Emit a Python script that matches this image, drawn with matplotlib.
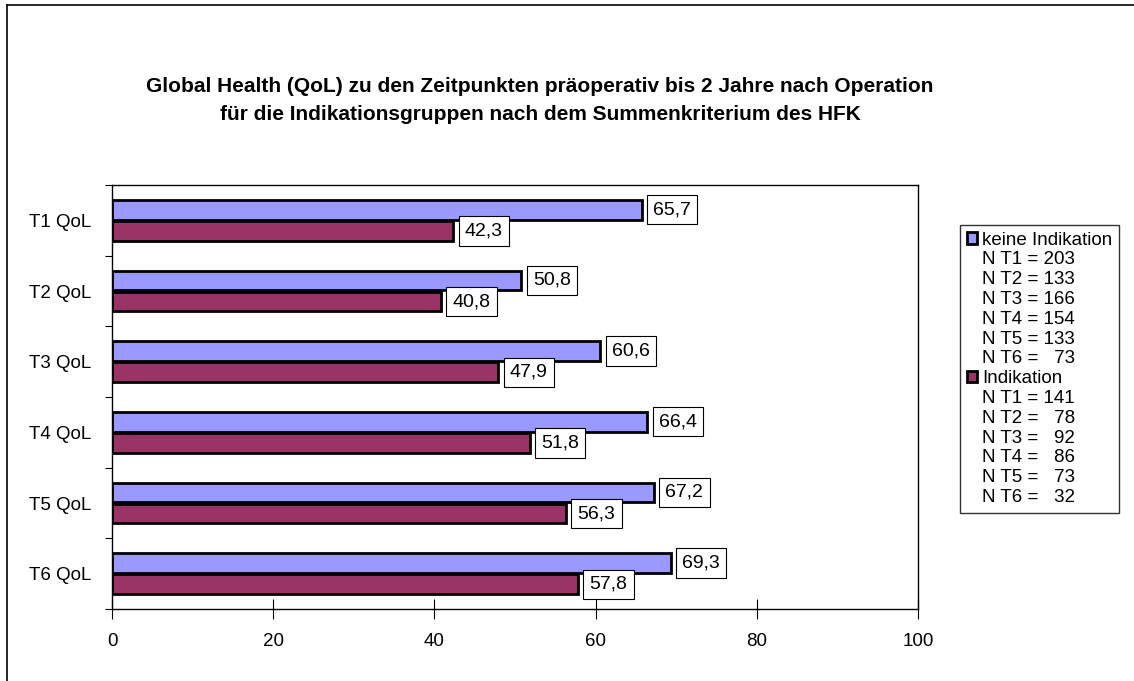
import matplotlib.pyplot as plt
import numpy as np
from matplotlib.patches import Patch
from matplotlib.lines import Line2D

plt.rcParams['font.family'] = ['Liberation Sans', 'DejaVu Sans']

# data
categories = ['T1 QoL', 'T2 QoL', 'T3 QoL', 'T4 QoL', 'T5 QoL', 'T6 QoL']
keine = [65.7, 50.8, 60.6, 66.4, 67.2, 69.3]
indikation = [42.3, 40.8, 47.9, 51.8, 56.3, 57.8]
n_keine = [203, 133, 166, 154, 133, 73]
n_ind = [141, 78, 92, 86, 73, 32]
series_names = ['keine Indikation', 'Indikation']
x_ticks = [0, 20, 40, 60, 80, 100]

c_blue = '#9999FF'
c_purple = '#993366'

fig = plt.figure(figsize=(11.34, 6.81), dpi=100)
ax = fig.add_axes([112 / 1134, 1 - 609 / 681, 806 / 1134, 424 / 681])

y = np.arange(len(categories))
h = 0.28
ax.barh(y - h / 2 - 0.01, keine, height=h, color=c_blue, edgecolor='black', linewidth=2)
ax.barh(y + h / 2 + 0.01, indikation, height=h, color=c_purple, edgecolor='black', linewidth=2)


def lab(v, yy):
    ax.annotate(f"{v:.1f}".replace('.', ','), (v, yy), xytext=(8.5, 0),
                textcoords='offset points', ha='left', va='center', fontsize=14,
                bbox=dict(boxstyle='square,pad=0.32', fc='white', ec='black', lw=0.8))


for i in range(len(categories)):
    lab(keine[i], y[i] - h / 2 - 0.01)
    lab(indikation[i], y[i] + h / 2 + 0.01)

ax.set_xlim(0, 100)
ax.set_ylim(len(categories) - 0.5, -0.5)
ax.set_xticks(x_ticks)
ax.set_xticklabels([str(t) for t in x_ticks], fontsize=13.5)
ax.tick_params(axis='x', direction='inout', length=14, pad=10)

# ticks at category borders, labels at centers
ax.set_yticks(np.arange(-0.5, len(categories), 1.0))
ax.set_yticklabels([])
ax.set_yticks(y, minor=True)
ax.set_yticklabels(categories, minor=True, fontsize=13.5)
ax.tick_params(axis='y', which='major', direction='out', length=5)
ax.tick_params(axis='y', which='minor', length=0, pad=15)
for s in ax.spines.values():
    s.set_linewidth(1)
    s.set_color('black')

fig.text(540 / 1134, 1 - 87 / 681,
         'Global Health (QoL) zu den Zeitpunkten präoperativ bis 2 Jahre nach Operation',
         ha='center', va='center', fontsize=15, fontweight='bold')
fig.text(540 / 1134, 1 - 115 / 681,
         'für die Indikationsgruppen nach dem Summenkriterium des HFK',
         ha='center', va='center', fontsize=15, fontweight='bold')

# legend
empty = Patch(facecolor='none', edgecolor='none')
handles = [Patch(facecolor=c_blue, edgecolor='black', linewidth=2)]
labels = [series_names[0]]
for i, n in enumerate(n_keine):
    handles.append(empty)
    labels.append(f"N T{i + 1} = " + ' ' * (2 * (3 - len(str(n)))) + str(n))
handles.append(Patch(facecolor=c_purple, edgecolor='black', linewidth=2))
labels.append(series_names[1])
for i, n in enumerate(n_ind):
    handles.append(empty)
    labels.append(f"N T{i + 1} = " + ' ' * (2 * (3 - len(str(n)))) + str(n))

leg = fig.legend(handles, labels, loc='upper left', bbox_to_anchor=(960 / 1134, 1 - 225 / 681),
                 fontsize=13.5, frameon=True, fancybox=False, borderaxespad=0,
                 handlelength=0.55, handleheight=0.55, handletextpad=0.3,
                 labelspacing=0.15, borderpad=0.35)
leg.get_frame().set_edgecolor('black')
leg.get_frame().set_linewidth(1)

# outer chart border (left and top only visible)
fig.add_artist(Line2D([7 / 1134, 7 / 1134], [0, 1 - 5 / 681], color='black', lw=1.2))
fig.add_artist(Line2D([7 / 1134, 1], [1 - 5 / 681, 1 - 5 / 681], color='black', lw=1.2))

fig.savefig('out.png', dpi=100)
